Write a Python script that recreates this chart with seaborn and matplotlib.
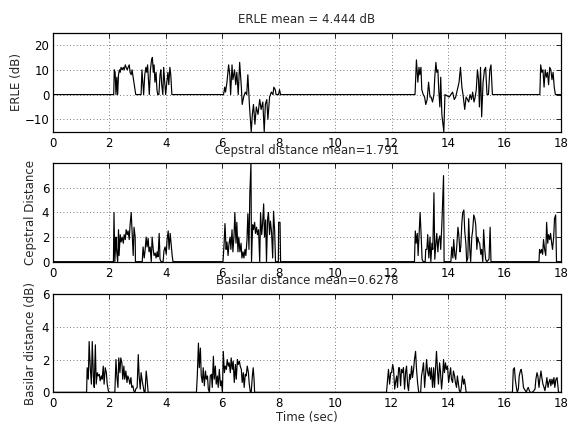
import numpy as np
import matplotlib
matplotlib.use("Agg")
import matplotlib.pyplot as plt
import seaborn as sns

# ---- data (time in sec) ----
erle_t = [0.0, 2.16, 2.18, 2.21, 2.24, 2.27, 2.30, 2.33, 2.36, 2.39, 2.42, 2.46, 2.50, 2.53, 2.57,
          2.60, 2.64, 2.67, 2.71, 2.74, 2.78, 2.81, 2.85, 2.88, 2.92, 2.94,
          3.13, 3.16, 3.19, 3.22, 3.26, 3.30, 3.33, 3.36, 3.39, 3.42, 3.46, 3.50, 3.53, 3.56, 3.59,
          3.62, 3.66, 3.69, 3.72, 3.76, 3.80, 3.83, 3.86, 3.90, 3.93, 3.96, 4.00, 4.04, 4.08, 4.11,
          4.15, 4.18, 4.22,
          6.03, 6.05, 6.09, 6.12, 6.17, 6.23, 6.27, 6.30, 6.35, 6.38, 6.44, 6.48, 6.52, 6.57, 6.62,
          6.68, 6.71, 6.76, 6.82, 6.87, 6.91, 6.97, 7.03, 7.07, 7.11, 7.16, 7.21, 7.27, 7.33, 7.38,
          7.44, 7.49, 7.53, 7.58, 7.62, 7.68, 7.74, 7.80, 7.83, 7.88, 7.91, 8.00, 8.03, 8.07,
          12.83, 12.88, 12.93, 12.97, 13.00, 13.04, 13.07, 13.12, 13.17, 13.21, 13.26, 13.31, 13.36,
          13.40, 13.45, 13.50, 13.53, 13.57, 13.60, 13.64, 13.67, 13.71, 13.74, 13.78, 13.82, 13.85,
          13.89, 14.04, 14.10, 14.16, 14.22, 14.27, 14.33, 14.39, 14.44, 14.49, 14.53, 14.59, 14.64,
          14.69, 14.73, 14.78, 14.83, 14.87, 14.92, 14.96, 15.00, 15.04, 15.08, 15.11, 15.15, 15.19,
          15.24, 15.29, 15.33, 15.38, 15.43, 15.48, 15.52, 15.57,
          17.25, 17.28, 17.32, 17.36, 17.40, 17.44, 17.48, 17.52, 17.56, 17.60, 17.64, 17.68, 17.72,
          17.76, 17.80, 18.0]
erle_v = [0, 0, 10, 9, 0, 7, 0, 8, 10, 9, 11, 10, 11, 10, 12,
          11, 10, 11, 12, 9, 8, 10, 7, 5, 2, 0,
          0, 10, 5, 0, 8, 11, 9, 12, 6, 0, 10, 14, 15, 9, 12,
          5, 9, 2, 0, 0, 8, 10, 4, 0, 11, 6, 0, 5, 9, 4,
          11, 8, 0,
          0, 0, 3, 1, 5, 12, 8, 0, 12, 6, 10, 4, 9, 0, 13,
          3, -4, -1, 1, 0, 8, -5, -15, -8, -4, -12, -5, -8, -2, -6,
          -3, -15, -4, -2, -10, -1, 1, 0, 3, 2, 0, 0, 2, 0,
          0, 14, 5, 11, 8, 11, 2, 0, -1, -4, -2, 5, -1,
          -1, -3, 0, 7, 13, 9, 10, 2, -5, 7, -8, -12, -15,
          0, -1, 0, 1, -2, -1, 2, 5, 11, 3, 0, -6, -1,
          -2, -3, 0, -2, 1, -3, -1, 2, 10, 6, -5, 11, -9,
          5, 10, 11, 0, 0, 10, 12, 0,
          0, 12, 9, 10, 3, 10, 7, 9, 4, 11, 10, 6, 9,
          3, 0, 0]

ceps_t = [0.0, 2.15, 2.17, 2.20, 2.24, 2.26, 2.30, 2.33, 2.35, 2.39, 2.42, 2.46, 2.50, 2.53, 2.57,
          2.60, 2.64, 2.67, 2.71, 2.74, 2.78, 2.81, 2.85, 2.88, 2.92, 2.93,
          3.17, 3.20, 3.24, 3.27, 3.31, 3.34, 3.38, 3.41, 3.45, 3.49, 3.52, 3.56, 3.59, 3.63, 3.66,
          3.70, 3.73, 3.77, 3.80, 3.84, 3.91, 3.94, 3.98, 4.02, 4.05, 4.09, 4.12, 4.16, 4.19, 4.23,
          4.26,
          6.03, 6.07, 6.10, 6.14, 6.17, 6.21, 6.24, 6.28, 6.31, 6.35, 6.38, 6.42, 6.45, 6.49, 6.52,
          6.56, 6.59, 6.63, 6.67, 6.70, 6.74, 6.77, 6.81, 6.84, 6.88, 6.91, 6.95, 6.98, 7.02, 7.04,
          7.08, 7.11, 7.15, 7.18, 7.22, 7.25, 7.29, 7.33, 7.36, 7.40, 7.43, 7.47, 7.50, 7.54, 7.57,
          7.61, 7.64, 7.68, 7.71, 7.75, 7.79, 7.82, 7.86, 7.89, 7.99, 8.00, 8.05, 8.07,
          12.81, 12.84, 12.87, 12.91, 12.94, 12.98, 13.01, 13.05, 13.08, 13.12, 13.19, 13.21, 13.25,
          13.28, 13.32, 13.36, 13.39, 13.43, 13.46, 13.50, 13.53, 13.57, 13.60, 13.64, 13.67, 13.71,
          13.74, 13.78, 13.81, 13.84, 13.86, 14.10, 14.13, 14.17, 14.20, 14.24, 14.27, 14.31, 14.35,
          14.38, 14.42, 14.45, 14.49, 14.52, 14.56, 14.59, 14.63, 14.66, 14.70, 14.73, 14.77, 14.80,
          14.84, 14.87, 14.91, 14.95, 14.98, 15.02, 15.05, 15.09, 15.12, 15.16, 15.19, 15.23, 15.26,
          15.30, 15.33, 15.37, 15.45, 15.49, 15.52,
          17.22, 17.24, 17.28, 17.31, 17.35, 17.38, 17.42, 17.46, 17.49, 17.53, 17.56, 17.60, 17.63,
          17.67, 17.70, 17.74, 17.77, 17.81, 17.84, 18.0]
ceps_v = [0, 0, 4.0, 0, 2.0, 1.0, 0, 2.6, 0.5, 2.2, 1.6, 2.0, 1.5, 2.2, 1.8,
          2.6, 2.2, 2.5, 1.8, 3.0, 4.0, 2.5, 0.5, 2.8, 2.0, 0,
          0, 1.2, 0.3, 0.9, 2.0, 1.2, 1.9, 0.8, 1.2, 0, 2.0, 1.0, 0.5, 0.7, 0.3,
          0.8, 0.4, 2.3, 0.2, 0, 0, 0.9, 1.2, 0.6, 1.8, 2.5, 1.0, 2.3, 1.5, 0.5,
          0,
          0, 1.5, 3.1, 1.0, 1.6, 0.5, 1.4, 2.0, 1.0, 2.6, 0.8, 2.1, 4.0, 1.5, 3.2,
          0.8, 2.0, 0.8, 1.5, 0.3, 0.8, 0.3, 1.0, 0.5, 1.8, 3.9, 1.0, 5.5, 8.0, 0,
          3.0, 2.6, 3.2, 2.3, 2.8, 2.2, 2.6, 0, 4.0, 2.2, 3.0, 4.7, 2.0, 3.4, 0,
          3.5, 4.0, 2.2, 3.3, 2.4, 0.3, 4.1, 2.5, 0, 0, 3.2, 3.2, 0,
          0, 2.5, 1.5, 2.3, 0.5, 2.5, 4.0, 2.0, 0.2, 0, 0, 1.0, 1.0,
          2.2, 0.3, 2.0, 0, 1.5, 1.0, 5.6, 0.2, 1.5, 2.3, 0.8, 1.8, 2.1,
          1.0, 3.0, 5.0, 7.0, 0, 0, 1.2, 0.3, 1.8, 0.5, 0.2, 1.3, 2.8,
          2.2, 0.8, 1.2, 3.2, 4.0, 4.2, 2.5, 1.5, 0, 0.3, 3.5, 1.0, 0,
          2.0, 2.5, 3.8, 3.5, 3.0, 1.0, 2.0, 1.6, 1.5, 0.6, 1.0, 0, 2.6,
          1.0, 0.2, 0, 0.2, 2.8, 0,
          0, 1.0, 0.7, 1.0, 0.6, 1.8, 1.0, 0.5, 3.2, 1.5, 2.2, 1.8, 2.3,
          1.5, 1.0, 2.0, 3.5, 3.8, 0, 0]

basi_t = [0.0, 1.20, 1.22, 1.26, 1.29, 1.33, 1.37, 1.40, 1.44, 1.47, 1.51, 1.54, 1.58, 1.61, 1.65,
          1.68, 1.72, 1.75, 1.79, 1.82, 1.86, 1.90, 1.93, 1.97, 2.00,
          2.20, 2.24, 2.27, 2.31, 2.34, 2.38, 2.41, 2.45, 2.48, 2.52, 2.55, 2.59, 2.63, 2.66, 2.70,
          2.73, 2.77, 2.80, 2.84, 2.87, 2.91, 2.94, 2.99, 3.03, 3.06, 3.10, 3.13, 3.17, 3.20, 3.24,
          3.27, 3.31, 3.34, 3.38,
          5.09, 5.12, 5.16, 5.19, 5.23, 5.26, 5.30, 5.33, 5.37, 5.41, 5.44, 5.48, 5.51, 5.55, 5.58,
          5.62, 5.65, 5.69, 5.72, 5.76, 5.79, 5.83, 5.86, 5.90, 5.94, 5.97, 6.01, 6.04, 6.08, 6.11,
          6.15, 6.18, 6.22, 6.25, 6.29, 6.32, 6.36, 6.39, 6.43, 6.47, 6.50, 6.54, 6.57, 6.61, 6.64,
          6.68, 6.71, 6.75, 6.78, 6.82, 6.85, 6.89, 6.93, 6.96, 7.00, 7.03, 7.07, 7.10, 7.13, 7.15,
          11.82, 11.86, 11.89, 11.93, 11.97, 12.00, 12.04, 12.07, 12.11, 12.14, 12.18, 12.21, 12.25,
          12.28, 12.32, 12.35, 12.39, 12.42, 12.46, 12.50, 12.53, 12.57, 12.60, 12.64, 12.67, 12.71,
          12.74, 12.78, 12.81, 12.85, 12.88, 12.92, 12.96, 12.99, 13.03, 13.06, 13.10, 13.13, 13.17,
          13.20, 13.24, 13.27, 13.31, 13.34, 13.38, 13.41, 13.45, 13.49, 13.52, 13.56, 13.59, 13.63,
          13.66, 13.70, 13.73, 13.77, 13.80, 13.84, 13.87, 13.91, 13.94, 13.98, 14.02, 14.05, 14.09,
          14.12, 14.16, 14.19, 14.23, 14.26, 14.30, 14.33, 14.37, 14.40, 14.44, 14.47, 14.51, 14.55,
          14.58, 14.62, 14.64,
          16.28, 16.31, 16.35, 16.38, 16.42, 16.45, 16.49, 16.52, 16.56, 16.59, 16.63, 16.67, 16.70,
          16.74, 16.77, 16.81, 16.84, 16.88, 16.91, 16.98, 17.04, 17.08, 17.11, 17.15, 17.18, 17.22,
          17.25, 17.29, 17.33, 17.36, 17.40, 17.43, 17.47, 17.50, 17.54, 17.57, 17.61, 17.64, 17.68,
          17.71, 17.75, 17.78, 17.82, 17.86, 17.89, 17.91, 18.0]
basi_v = [0, 0, 1.5, 0.8, 3.1, 1.5, 0.5, 3.1, 1.0, 0.3, 2.9, 0.5, 1.2, 1.0, 1.1,
          0.7, 1.0, 0.8, 1.6, 0.5, 1.5, 1.2, 0.5, 0.1, 0,
          0, 2.0, 1.0, 0.3, 2.1, 1.2, 2.1, 1.8, 0.8, 1.6, 0.8, 1.3, 0.6, 1.0, 0.8,
          0.5, 0.9, 0.3, 0.4, 0.1, 0, 0.2, 0.3, 2.3, 1.0, 0.2, 1.2, 0.7, 0.4, 0,
          0, 1.3, 0.8, 0,
          0, 1.0, 3.0, 1.5, 2.7, 1.0, 0.6, 1.5, 0.4, 1.3, 0.8, 1.0, 0.2, 0, 1.0,
          1.1, 0.3, 2.2, 0.8, 1.6, 0.5, 1.0, 0.3, 1.4, 0.4, 0.7, 0, 2.5, 1.2, 1.6,
          1.4, 2.0, 1.6, 1.8, 1.2, 2.1, 1.4, 1.9, 0.6, 1.7, 0.8, 2.0, 1.7, 1.9, 1.6,
          1.4, 0.6, 1.2, 0.3, 1.1, 1.0, 1.6, 1.2, 0.5, 0, 0, 1.0, 1.5, 0.8, 0,
          0, 0.8, 1.4, 0.5, 1.2, 1.2, 1.7, 1.4, 0.2, 0.6, 1.0, 0.3, 1.5,
          1.5, 0.4, 1.4, 1.2, 1.5, 0.2, 1.3, 1.6, 0.4, 0.1, 1.1, 0.8, 1.6,
          0.9, 1.4, 2.0, 2.5, 1.5, 0.6, 0, 0, 0, 1.0, 1.4, 1.8, 0.3,
          1.0, 2.0, 1.3, 1.0, 1.5, 0.8, 1.5, 0.3, 1.5, 0.3, 1.5, 2.5, 1.2,
          0.5, 1.8, 1.3, 0.2, 0.8, 2.0, 1.2, 1.8, 1.4, 1.6, 0.6, 1.0, 1.5,
          0.8, 0.6, 1.3, 1.0, 0.6, 0.3, 1.0, 0.5, 0.1, 0, 0.3, 1.0, 0.5,
          0.8, 0.3, 0,
          0, 1.4, 1.5, 0.8, 0.3, 0, 0.2, 1.0, 1.3, 1.4, 1.0, 0.3, 0.2,
          0.1, 0, 0.2, 0.3, 0.1, 0, 0, 0.1, 0.2, 0.8, 1.2, 1.0, 0.3,
          0.8, 1.3, 0.8, 0.5, 0.3, 0.1, 0.5, 0.9, 0.3, 0.6, 0.8, 0.4, 0.8,
          0.5, 0.9, 0.3, 0.8, 0.9, 0.4, 0, 0]

titles = ['ERLE mean = 4.444 dB', 'Cepstral distance mean=1.791', 'Basilar distance mean=0.6278']
ylabels = ['ERLE (dB)', 'Cepstral Distance', 'Basilar distance (dB)']
ylims = [(-15, 25), (0, 8), (0, 6)]
yticks = [[-10, 0, 10, 20], [0, 2, 4, 6], [0, 2, 4, 6]]
xticks = list(range(0, 19, 2))

sns.set_style('white')
plt.rcParams['font.family'] = ['DejaVu Sans']
plt.rcParams['axes.linewidth'] = 0.9
plt.rcParams['axes.edgecolor'] = 'black'

fig = plt.figure(figsize=(5.68, 4.24), dpi=100)
positions = [[0.0928, 0.6894, 0.8949, 0.2335],
             [0.0928, 0.3828, 0.8949, 0.2321],
             [0.0928, 0.0747, 0.8949, 0.2319]]
label_x = [-0.058, -0.030, -0.031]
series = [(erle_t, erle_v), (ceps_t, ceps_v), (basi_t, basi_v)]

for i, (tt, vv) in enumerate(series):
    ax = fig.add_axes(positions[i])
    sns.lineplot(x=tt, y=vv, ax=ax, color='black', linewidth=0.85,
                 estimator=None, sort=False)
    ax.set_xlim(0, 18)
    ax.set_ylim(*ylims[i])
    ax.set_xticks(xticks)
    ax.set_yticks(yticks[i])
    ax.tick_params(direction='in', top=True, right=True, length=3.5, width=0.6,
                   labelsize=8.5, pad=3.5, colors='black')
    ax.tick_params(axis='y', pad=2.5)
    ax.grid(True, linestyle=(0, (1, 3)), color='0.3', linewidth=0.6)
    ax.set_title(titles[i], fontsize=8.5, pad=7)
    ax.set_ylabel(ylabels[i], fontsize=8.5)
    ax.yaxis.set_label_coords(label_x[i], 0.5)
    for s in ax.spines.values():
        s.set_visible(True)
        s.set_color('black')
    if i == 2:
        ax.set_xlabel('Time (sec)', fontsize=8.5, labelpad=0.5)

fig.savefig('out.png', dpi=100)
